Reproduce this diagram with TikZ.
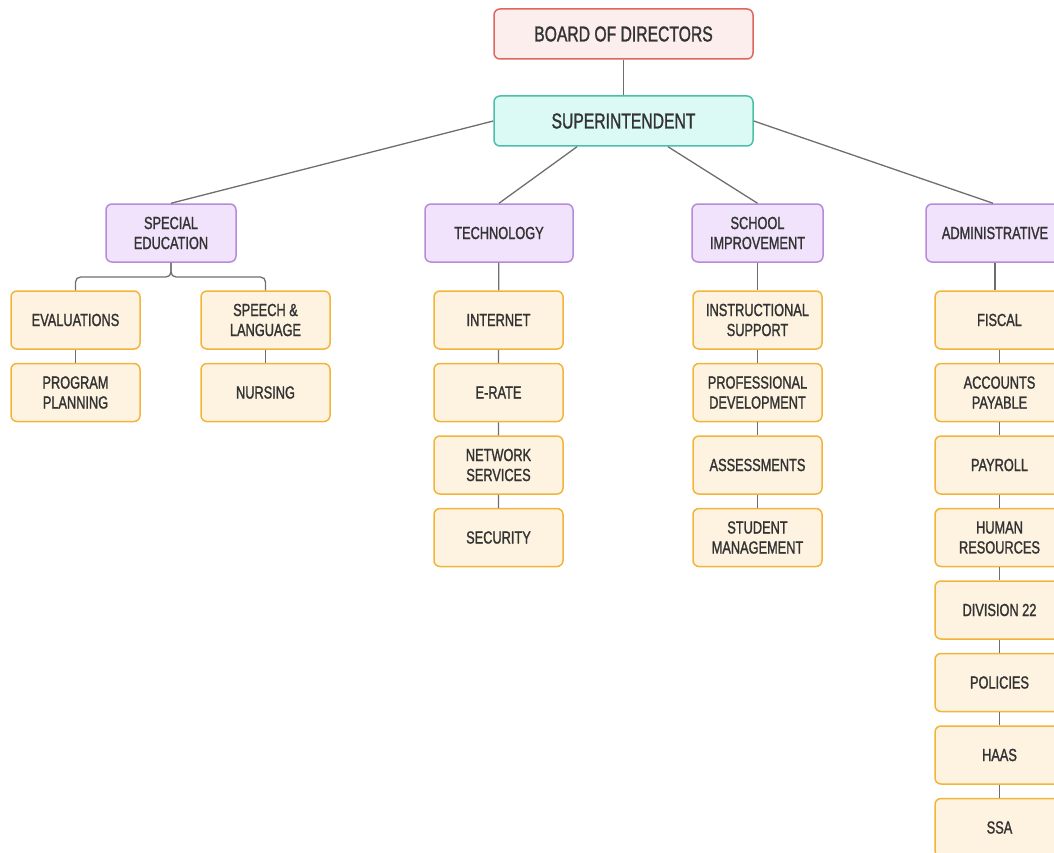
\documentclass[tikz,border=0pt]{standalone}
\usepackage{fontspec}
\setmainfont{Liberation Sans}[FakeStretch=0.73, FakeBold=1.3]
\usepackage{tikz}
\usetikzlibrary{positioning}

\definecolor{boardfill}{HTML}{FDEEEE}
\definecolor{boarddraw}{HTML}{E0655F}
\definecolor{supfill}{HTML}{DCFAF5}
\definecolor{supdraw}{HTML}{4CBFA9}
\definecolor{deptfill}{HTML}{F0E3FB}
\definecolor{deptdraw}{HTML}{B68BD9}
\definecolor{unitfill}{HTML}{FDF3E0}
\definecolor{unitdraw}{HTML}{F2B53A}
\definecolor{wire}{HTML}{6E6E6E}
\definecolor{ink}{HTML}{333333}

\tikzset{
	box/.style={rounded corners=6pt, line width=1.5pt, inner sep=0pt, align=center,
		text=ink},
	topbox/.style={box, minimum width=259pt, minimum height=50pt,
		font=\fontsize{21.5}{24}\selectfont},
	deptbox/.style={box, fill=deptfill, draw=deptdraw, minimum height=58pt,
		font=\fontsize{17.5}{20}\selectfont},
	unitbox/.style={box, fill=unitfill, draw=unitdraw, minimum width=129pt,
		minimum height=58pt, font=\fontsize{17.5}{20}\selectfont},
	wire/.style={draw=wire, line width=1.3pt}
}

\begin{document}
\begin{tikzpicture}[x=1pt, y=-1pt]
	\useasboundingbox (0,0) rectangle (1054,853);

	%vrh
	\node[topbox, fill=boardfill, draw=boarddraw] (board) at (623.5, 34) {BOARD OF DIRECTORS};
	\node[topbox, fill=supfill, draw=supdraw] (super) at (623.5, 121) {SUPERINTENDENT};

	%odjeli
	\node[deptbox, minimum width=130pt] (sped) at (171, 233) {SPECIAL\\EDUCATION};
	\node[deptbox, minimum width=148pt] (tech) at (499, 233) {TECHNOLOGY};
	\node[deptbox, minimum width=131pt] (school) at (757.5, 233) {SCHOOL\\IMPROVEMENT};
	\node[deptbox, minimum width=138pt] (admin) at (995, 233) {ADMINISTRATIVE};

	%posebno obrazovanje
	\node[unitbox] (evals) at (75.5, 320) {EVALUATIONS};
	\node[unitbox] (program) at (75.5, 392.5) {PROGRAM\\PLANNING};
	\node[unitbox] (speech) at (265.5, 320) {SPEECH \&\\LANGUAGE};
	\node[unitbox] (nursing) at (265.5, 392.5) {NURSING};

	%tehnologija
	\node[unitbox] (internet) at (498.5, 320) {INTERNET};
	\node[unitbox] (erate) at (498.5, 392.5) {E-RATE};
	\node[unitbox] (network) at (498.5, 465) {NETWORK\\SERVICES};
	\node[unitbox] (security) at (498.5, 537.5) {SECURITY};

	%skola
	\node[unitbox] (instr) at (757.5, 320) {INSTRUCTIONAL\\SUPPORT};
	\node[unitbox] (profdev) at (757.5, 392.5) {PROFESSIONAL\\DEVELOPMENT};
	\node[unitbox] (assess) at (757.5, 465) {ASSESSMENTS};
	\node[unitbox] (student) at (757.5, 537.5) {STUDENT\\MANAGEMENT};

	%uprava
	\node[unitbox] (fiscal) at (999.5, 320) {FISCAL};
	\node[unitbox] (accounts) at (999.5, 392.5) {ACCOUNTS\\PAYABLE};
	\node[unitbox] (payroll) at (999.5, 465) {PAYROLL};
	\node[unitbox] (hr) at (999.5, 537.5) {HUMAN\\RESOURCES};
	\node[unitbox] (division) at (999.5, 610) {DIVISION 22};
	\node[unitbox] (policies) at (999.5, 682.5) {POLICIES};
	\node[unitbox] (haas) at (999.5, 755) {HAAS};
	\node[unitbox] (ssa) at (999.5, 827.5) {SSA};

	%veze
	\draw[wire] (board) -- (super);
	\draw[wire] (super.west) -- (sped.north);
	\draw[wire] ([xshift=-46.5pt]super.south) -- (tech.north);
	\draw[wire] ([xshift=44.5pt]super.south) -- (school.north);
	\draw[wire] (super.east) -- ([xshift=-2pt]admin.north);

	\coordinate (fork) at (171, 277);
	\draw[wire, rounded corners=5pt] (sped.south) |- (evals.north |- fork) -- (evals.north);
	\draw[wire, rounded corners=5pt] (sped.south) |- (speech.north |- fork) -- (speech.north);
	\draw[wire] (evals) -- (program);
	\draw[wire] (speech) -- (nursing);

	\draw[wire] (tech) -- (internet) -- (erate) -- (network) -- (security);
	\draw[wire] (school) -- (instr) -- (profdev) -- (assess) -- (student);
	\draw[wire] (admin) -- (admin |- fiscal.north);
	\draw[wire] (fiscal) -- (accounts) -- (payroll) -- (hr) -- (division)
		-- (policies) -- (haas) -- (ssa);
\end{tikzpicture}
\end{document}
